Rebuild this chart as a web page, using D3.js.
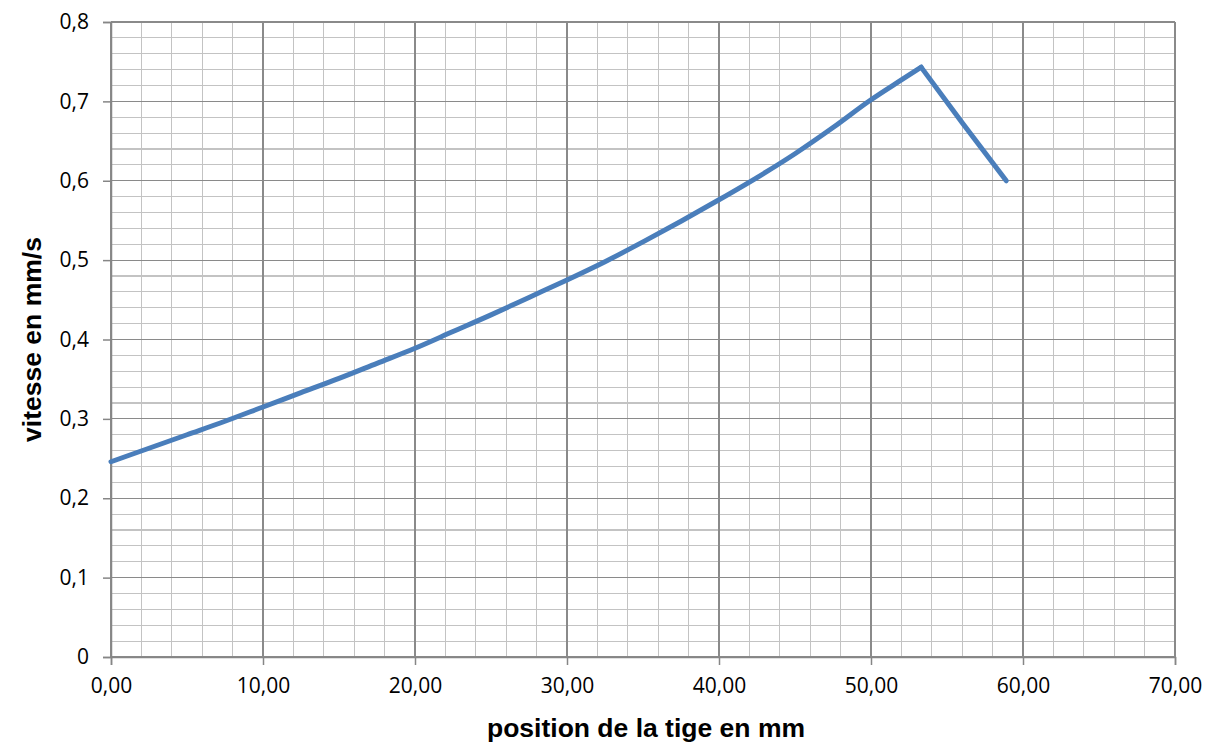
<!DOCTYPE html>
<html lang="fr">
<head>
    <meta charset="UTF-8">
    <title>vitesse / position</title>
    <script src="https://cdn.jsdelivr.net/npm/d3@7"></script>
    <style>
        body { margin: 0; background: #fff; }
        svg { width: 1208px; height: 745px; display: block; }
        .minor { stroke: #c3c3c3; stroke-width: 1.2px; shape-rendering: crispEdges; }
        .major { stroke: #8a8a8a; stroke-width: 1.2px; shape-rendering: crispEdges; }
        .tick text { font-family: "Open Sans", sans-serif; font-size: 21px; fill: #000; }
        .title { font-family: "Liberation Sans", Arial, sans-serif; font-size: 26.5px; font-weight: bold; }
        .curve { fill: none; stroke: #4a7ebb; stroke-width: 5px; stroke-linejoin: round; stroke-linecap: round; }
    </style>
</head>
<body>
<svg></svg>

<script>

    // position de la tige (mm) / vitesse (mm/s)
    var positions = [0, 2.5, 5, 7.5, 10, 12.5, 15, 17.5, 20, 22.5, 25, 27.5, 30, 32.5, 35, 37.5, 40, 42.5, 45, 47.5, 50, 52, 53.3, 56, 58.9];
    var vitesses = [0.246, 0.263, 0.280, 0.297, 0.315, 0.333, 0.351, 0.370, 0.389, 0.410, 0.431, 0.453, 0.475, 0.498, 0.523, 0.549, 0.576, 0.604, 0.634, 0.667, 0.702, 0.727, 0.743, 0.673, 0.600];

    var xTicks = [0, 10, 20, 30, 40, 50, 60, 70];
    var yTicks = [0, 0.1, 0.2, 0.3, 0.4, 0.5, 0.6, 0.7, 0.8];

    var svg = d3.select('svg');

    var mLeft = 111, mRight = 1175, mTop = 22, mBottom = 657;

    var x = d3.scaleLinear().domain([0, 70]).range([mLeft, mRight]);
    var y = d3.scaleLinear().domain([0, 0.8]).range([mBottom, mTop]);

    var fr = d3.formatLocale({decimal: ',', thousands: ' ', grouping: [3], currency: ['', ' €']});

    // grille secondaire
    var g = svg.append('g');
    d3.range(0, 70.01, 2).forEach(function (v) {
        if (v % 10 === 0) return;
        g.append('line').attr('class', 'minor')
            .attr('x1', x(v)).attr('x2', x(v)).attr('y1', mTop).attr('y2', mBottom);
    });
    d3.range(0, 41).forEach(function (i) {
        if (i % 5 === 0) return;
        var v = i * 0.02;
        g.append('line').attr('class', 'minor')
            .attr('x1', mLeft).attr('x2', mRight).attr('y1', y(v)).attr('y2', y(v));
    });

    // grille principale
    xTicks.forEach(function (v) {
        g.append('line').attr('class', 'major')
            .attr('x1', x(v)).attr('x2', x(v)).attr('y1', mTop).attr('y2', mBottom);
    });
    yTicks.forEach(function (v) {
        g.append('line').attr('class', 'major')
            .attr('x1', mLeft).attr('x2', mRight).attr('y1', y(v)).attr('y2', y(v));
    });

    // axes
    var xAxis = d3.axisBottom(x).tickValues(xTicks).tickSize(8).tickPadding(10)
        .tickFormat(fr.format('.2f'));
    var yAxis = d3.axisLeft(y).tickValues(yTicks).tickSize(8).tickPadding(14)
        .tickFormat(function (d) { return d === 0 ? '0' : fr.format('.1f')(d); });

    var gx = svg.append('g').attr('transform', 'translate(0,' + mBottom + ')').call(xAxis);
    var gy = svg.append('g').attr('transform', 'translate(' + mLeft + ',0)').call(yAxis);

    [gx, gy].forEach(function (a) {
        a.select('.domain').attr('stroke', '#868686').attr('stroke-width', 1.5);
        a.selectAll('.tick line').attr('stroke', '#868686').attr('stroke-width', 1.5);
    });
    gx.selectAll('.tick text').attr('dy', '0.85em');

    // courbe : montée lissée, descente après le pic
    var pts = positions.map(function (p, i) { return [p, vitesses[i]]; });
    var iPic = d3.maxIndex(vitesses);
    var line = d3.line()
        .x(function (d) { return x(d[0]); })
        .y(function (d) { return y(d[1]); })
        .curve(d3.curveMonotoneX);

    svg.append('path').datum(pts.slice(0, iPic + 1)).attr('class', 'curve').attr('d', line);
    svg.append('path').datum(pts.slice(iPic)).attr('class', 'curve').attr('d', line);

    // titres
    svg.append('text').attr('class', 'title')
        .attr('x', (mLeft + mRight) / 2 + 3).attr('y', 737)
        .attr('text-anchor', 'middle')
        .text('position de la tige en mm');

    svg.append('text').attr('class', 'title')
        .attr('transform', 'translate(41,' + ((mTop + mBottom) / 2) + ') rotate(-90)')
        .attr('text-anchor', 'middle')
        .text('vitesse en mm/s');

</script>

</body>
</html>
